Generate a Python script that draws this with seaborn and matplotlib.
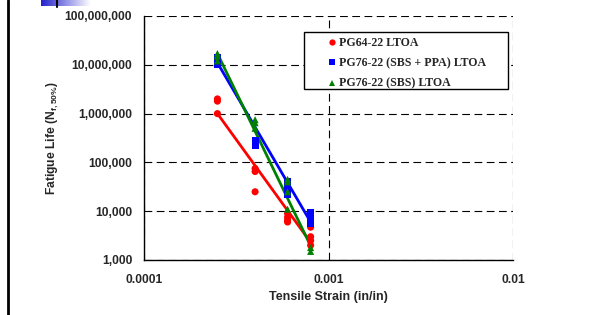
import numpy as np
import pandas as pd
import seaborn as sns
import matplotlib.pyplot as plt
from matplotlib.lines import Line2D
from matplotlib.patches import Rectangle
from matplotlib.colors import LinearSegmentedColormap
from matplotlib.ticker import LogLocator, FuncFormatter, NullFormatter

# ---------------- data ----------------
series_names = ["PG64-22 LTOA", "PG76-22 (SBS + PPA) LTOA", "PG76-22 (SBS) LTOA"]

red_strain = [0.00025, 0.00025, 0.00025, 0.0004, 0.0004, 0.0004,
              0.0006, 0.0006, 0.0006, 0.0006, 0.0008, 0.0008, 0.0008, 0.0008]
red_life = [1.0e6, 1.8e6, 2.0e6, 7.5e4, 6.5e4, 2.5e4,
            9000, 7500, 6500, 6000, 4700, 3000, 2500, 2000]

blue_strain = [0.00025, 0.00025, 0.00025, 0.0004, 0.0004,
               0.0006, 0.0006, 0.0006, 0.0008, 0.0008, 0.0008, 0.0008]
blue_life = [1.4e7, 1.2e7, 1.0e7, 2.8e5, 2.2e5,
             4.0e4, 3.0e4, 2.2e4, 9500, 7000, 6000, 5500]

green_strain = [0.00025, 0.00025, 0.00025, 0.0004, 0.0004, 0.0004,
                0.0006, 0.0006, 0.0006, 0.0006, 0.0008, 0.0008]
green_life = [1.7e7, 1.5e7, 1.2e7, 7.5e5, 6.5e5, 5.0e5,
              4.5e4, 4.0e4, 2.5e4, 1.1e4, 1800, 1500]

fit_strain = [0.00025, 0.0008]
fit_red = [1.0e6, 2.3e3]
fit_blue = [1.1e7, 6.0e3]
fit_green = [1.7e7, 1.95e3]

colors = ["#FF0000", "#0000FF", "#008000"]
markers = ["o", "s", "^"]

pts = pd.concat([
    pd.DataFrame({"strain": red_strain, "life": red_life, "mix": series_names[0]}),
    pd.DataFrame({"strain": blue_strain, "life": blue_life, "mix": series_names[1]}),
    pd.DataFrame({"strain": green_strain, "life": green_life, "mix": series_names[2]}),
])
fits = pd.concat([
    pd.DataFrame({"strain": fit_strain, "life": fit_red, "mix": series_names[0]}),
    pd.DataFrame({"strain": fit_strain, "life": fit_blue, "mix": series_names[1]}),
    pd.DataFrame({"strain": fit_strain, "life": fit_green, "mix": series_names[2]}),
])

# ---------------- figure ----------------
sns.set_theme(style="white")
plt.rcParams["font.family"] = ["Liberation Sans", "DejaVu Sans"]

W, H = 591, 315
fig = plt.figure(figsize=(W / 100, H / 100), dpi=100)
ax = fig.add_axes([144 / W, 1 - 260 / H, (513 - 144) / W, (260 - 16) / H])

pal = dict(zip(series_names, colors))
mk = dict(zip(series_names, markers))

sns.lineplot(data=fits, x="strain", y="life", hue="mix", palette=pal,
             linewidth=2.0, legend=False, ax=ax, zorder=2)
sns.scatterplot(data=pts, x="strain", y="life", hue="mix", style="mix",
                palette=pal, markers=mk, s=26, linewidth=0, legend=False,
                ax=ax, zorder=3)

ax.set_xscale("log")
ax.set_yscale("log")
ax.set_xlim(1e-4, 1e-2)
ax.set_ylim(1e3, 1e8)

ax.xaxis.set_major_locator(LogLocator(base=10))
ax.yaxis.set_major_locator(LogLocator(base=10))
ax.xaxis.set_minor_locator(LogLocator(base=10, subs=np.arange(2, 10)))
ax.yaxis.set_minor_locator(LogLocator(base=10, subs=np.arange(2, 10)))
ax.xaxis.set_minor_formatter(NullFormatter())
ax.yaxis.set_minor_formatter(NullFormatter())
ax.xaxis.set_major_formatter(FuncFormatter(lambda v, p: f"{v:g}"))
ax.yaxis.set_major_formatter(FuncFormatter(lambda v, p: f"{v:,.0f}"))

for lab in ax.get_xticklabels() + ax.get_yticklabels():
    lab.set_fontweight("bold")
    lab.set_fontsize(8.7)

ax.tick_params(axis="both", which="major", direction="inout", length=5,
               width=0.8, color="black")
ax.tick_params(axis="y", which="major", pad=6)
ax.tick_params(axis="x", which="major", pad=7.5)
ax.tick_params(axis="both", which="minor", direction="in", length=2.5,
               width=0.6, color="black")

for s in ["top", "right"]:
    ax.spines[s].set_visible(False)
for s in ["left", "bottom"]:
    ax.spines[s].set_color("black")
    ax.spines[s].set_linewidth(1.0)

ax.grid(True, which="major", axis="both", color="black",
        linestyle=(0, (7, 4)), linewidth=0.8)
ax.set_axisbelow(True)

ax.set_xlabel("Tensile Strain (in/in)", fontsize=9, fontweight="bold")
ax.xaxis.set_label_coords(0.5, (260 - 291) / 244)
ax.set_ylabel(r"Fatigue Life (N$_{\mathregular{f, 50\%}}$)", fontsize=8.7,
              fontweight="bold")
ax.yaxis.set_label_coords((61 - 144) / 369, 0.5)

# legend: frame drawn separately to match the wide box
fig.add_artist(Rectangle((304 / W, 1 - 89 / H), (508 - 304) / W, (89 - 32) / H,
                         transform=fig.transFigure, facecolor="white",
                         edgecolor="black", linewidth=1.0, zorder=4))
handles = [Line2D([], [], linestyle="none", marker=m, color=c, markersize=4.5,
                  markeredgewidth=0)
           for m, c in zip(markers, colors)]
leg = fig.legend(handles, series_names, loc="upper left",
                 bbox_to_anchor=(327 / W, 1 - 37.5 / H),
                 bbox_transform=fig.transFigure, frameon=False,
                 prop={"family": "Liberation Serif", "weight": "bold", "size": 8.6},
                 handlelength=0.8, handletextpad=0.2, labelspacing=0.68,
                 borderpad=0, borderaxespad=0)
leg.set_zorder(5)

# slide decorations: left rule and top-left blue gradient block
fig.add_artist(Line2D([8 / W, 8 / W], [0, 1], color="black", linewidth=2,
                      transform=fig.transFigure))
grad = np.linspace(0, 1, 100)[None, :]
gax = fig.add_axes([41 / W, 1 - 6 / H, 50 / W, 6 / H])
cm = LinearSegmentedColormap.from_list("g", ["#2222CC", "#FFFFFF"])
gax.imshow(grad, aspect="auto", cmap=cm)
gax.axis("off")
fig.add_artist(Line2D([57 / W, 57 / W], [1 - 7 / H, 1], color="black",
                      linewidth=1.5, transform=fig.transFigure))

fig.savefig("out.png", dpi=100)
